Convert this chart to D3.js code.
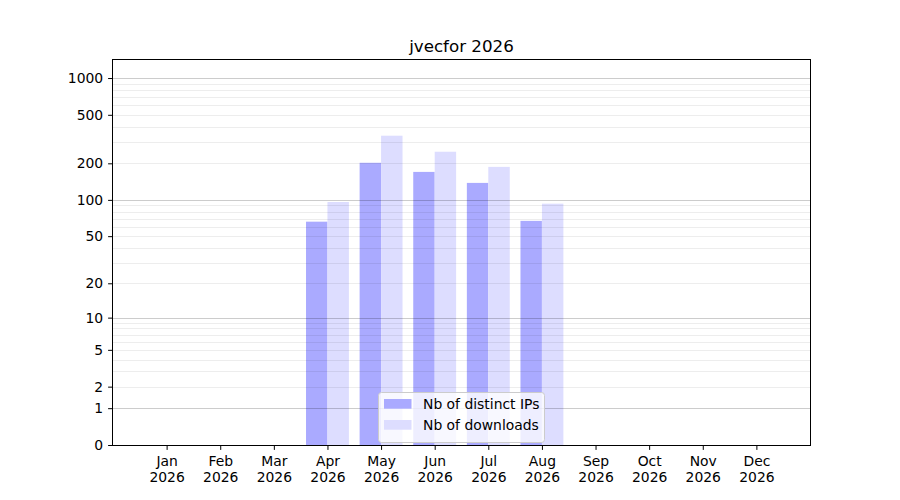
<!DOCTYPE html>
<html>
<head>
<meta charset="utf-8">
<script src="https://cdn.jsdelivr.net/npm/d3@7"></script>
<style>
  body { margin: 0; background: #fff; }
  svg { display: block; font-family: "DejaVu Sans", sans-serif; }
</style>
</head>
<body>
<svg id="chart" width="900" height="500"></svg>
<script>
const title = "jvecfor 2026";
const months = ["Jan","Feb","Mar","Apr","May","Jun","Jul","Aug","Sep","Oct","Nov","Dec"];
const year = "2026";
const distinctIPs = [0, 0, 0, 66, 202, 170, 138, 67, 0, 0, 0, 0];
const downloads = [0, 0, 0, 96, 337, 249, 187, 93, 0, 0, 0, 0];
const seriesNames = ["Nb of distinct IPs", "Nb of downloads"];
const yTicks = [0, 1, 2, 5, 10, 20, 50, 100, 200, 500, 1000];
const yMajorGrid = [1, 10, 100, 1000];
const yMax = 1405;

const svg = d3.select("#chart");
const m = { left: 113, right: 810, top: 60, bottom: 445 };

const x = d3.scaleLinear().domain([0, 13]).range([m.left, m.right]);
const y = d3.scaleSymlog().constant(1).domain([0, yMax]).range([m.bottom, m.top]);

const barW = x(0.4) - x(0);
const colors = ["#aaaaff", "#ddddff"];

const minorGrid = [];
[1, 10, 100].forEach(d => { for (let k = 2; k <= 9; k++) minorGrid.push(d * k); });

const g = svg.append("g");
const data = months.map((mo, i) => ({ i: i + 1, ips: distinctIPs[i], dl: downloads[i] }));
g.selectAll(".ips").data(data.filter(d => d.ips > 0)).join("rect")
  .attr("x", d => x(d.i) - barW).attr("width", barW)
  .attr("y", d => y(d.ips)).attr("height", d => y(0) - y(d.ips))
  .attr("fill", colors[0]);
g.selectAll(".dl").data(data.filter(d => d.dl > 0)).join("rect")
  .attr("x", d => x(d.i)).attr("width", barW)
  .attr("y", d => y(d.dl)).attr("height", d => y(0) - y(d.dl))
  .attr("fill", colors[1]);

svg.append("g").selectAll("line").data(minorGrid).join("line")
  .attr("x1", m.left).attr("x2", m.right)
  .attr("y1", d => Math.round(y(d)) + 0.5).attr("y2", d => Math.round(y(d)) + 0.5)
  .attr("stroke", "#000").attr("stroke-opacity", 0.07).attr("stroke-width", 1);
svg.append("g").selectAll("line").data(yMajorGrid).join("line")
  .attr("x1", m.left).attr("x2", m.right)
  .attr("y1", d => Math.round(y(d)) + 0.5).attr("y2", d => Math.round(y(d)) + 0.5)
  .attr("stroke", "#000").attr("stroke-opacity", 0.2).attr("stroke-width", 1);

const fs = "13.9px";
const yAxis = d3.axisLeft(y).tickValues(yTicks).tickFormat(d3.format("d")).tickSize(4.9).tickPadding(4.9);
const ya = svg.append("g").attr("transform", `translate(${m.left},0)`).call(yAxis);
ya.select(".domain").remove();
ya.selectAll("text").attr("font-size", fs).attr("font-family", "DejaVu Sans").attr("fill", "#000");
ya.selectAll("line").attr("stroke", "#000");

const xAxis = d3.axisBottom(x).tickValues(d3.range(1, 13)).tickFormat(() => "").tickSize(4.9);
const xa = svg.append("g").attr("transform", `translate(0,${m.bottom})`).call(xAxis);
xa.select(".domain").remove();
xa.selectAll("line").attr("stroke", "#000");
xa.selectAll(".tick").each(function(d) {
  const t = d3.select(this).append("text").attr("fill", "#000")
    .attr("font-size", fs).attr("font-family", "DejaVu Sans").attr("text-anchor", "middle");
  t.append("tspan").attr("x", 0).attr("y", 21).text(months[d - 1]);
  t.append("tspan").attr("x", 0).attr("y", 37).text(year);
});

svg.append("rect").attr("x", m.left - 0.5).attr("y", m.top - 0.5)
  .attr("width", m.right - m.left + 1).attr("height", m.bottom - m.top + 1)
  .attr("fill", "none").attr("stroke", "#000").attr("stroke-width", 1)
  .attr("shape-rendering", "crispEdges");

svg.append("text").attr("x", (m.left + m.right) / 2).attr("y", 52)
  .attr("text-anchor", "middle").attr("font-size", "16.7px").attr("fill", "#000")
  .text(title);

const lg = svg.append("g").attr("transform", "translate(378.5,392.5)");
lg.append("rect").attr("width", 166).attr("height", 50).attr("rx", 3)
  .attr("fill", "#fff").attr("fill-opacity", 0.8).attr("stroke", "#ccc");
seriesNames.forEach((name, i) => {
  lg.append("rect").attr("x", 5.5).attr("y", 6.5 + i * 21).attr("width", 27.5).attr("height", 9.7)
    .attr("fill", colors[i]);
  lg.append("text").attr("x", 44.5).attr("y", 16 + i * 21).attr("font-size", fs).attr("fill", "#000")
    .text(name);
});
</script>
</body>
</html>
